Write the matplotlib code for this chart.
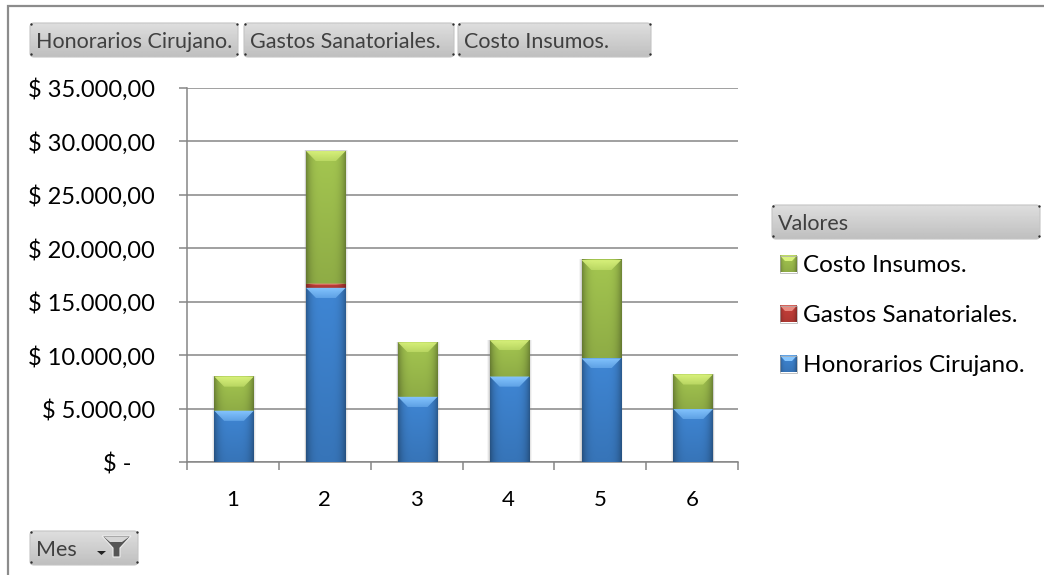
import matplotlib
matplotlib.use('Agg')
import matplotlib.pyplot as plt
import numpy as np
from matplotlib.patches import FancyBboxPatch, Polygon, Rectangle

plt.rcParams['font.family'] = ['Lato', 'DejaVu Sans']

meses = ['1', '2', '3', '4', '5', '6']
honorarios = [4800, 16300, 6100, 8000, 9700, 4950]
gastos = [0, 400, 0, 0, 0, 0]
insumos = [3200, 12400, 5100, 3400, 9200, 3250]
ytick_vals = [0, 5000, 10000, 15000, 20000, 25000, 30000, 35000]
ytick_labels = ['$ -    ', '$ 5.000,00', '$ 10.000,00', '$ 15.000,00', '$ 20.000,00',
                '$ 25.000,00', '$ 30.000,00', '$ 35.000,00']
botones = ['Honorarios Cirujano.', 'Gastos Sanatoriales.', 'Costo Insumos.']
leyenda = ['Costo Insumos.', 'Gastos Sanatoriales.', 'Honorarios Cirujano.']

azul = ['#3f86d4', '#86c6ff']
rojo = ['#c8403a', '#e98a80']
verde = ['#a4c650', '#d9f27c']

W, H = 1044, 575
GRIS = '#868686'
BAR_SHIFT = 0.012 # bars sit a little right of the category centre

fig = plt.figure(figsize=(W / 100, H / 100), dpi=100, facecolor='white')
ax = fig.add_axes([187 / W, 1 - 462 / H, 551 / W, 374 / H])

### gradient fill: darker towards the sides and the bottom ###
def shaded(color, n=40):
  rgb = np.array(matplotlib.colors.to_rgb(color))
  xs = np.linspace(-1, 1, n)
  ys = np.linspace(1.0, 0.87, n)
  side = 1 - 0.30 * np.abs(xs) ** 4
  return np.clip(rgb[None, None, :] * (ys[:, None] * side[None, :])[:, :, None], 0, 1)

# light top bevel that fades out downwards, clipped to a trapezoid
def bevel_top(a, x0, x1, top, h, d, color, zorder=4):
  tri = Polygon([(x0, top), (x1, top), (x1 - d, top - h), (x0 + d, top - h)], closed=True,
                facecolor='none', edgecolor='none', transform=a.transData)
  a.add_patch(tri)
  rgba = np.ones((30, 1, 4))
  rgba[:, 0, :3] = matplotlib.colors.to_rgb(color)
  rgba[:, 0, 3] = np.linspace(1.0, 0.45, 30)
  im = a.imshow(rgba, extent=[x0, x1, top - h, top], origin='upper', aspect='auto',
                interpolation='bilinear', zorder=zorder)
  im.set_clip_path(tri)

def bevel_bar(a, x, bottom, height, colors, width=0.43):
  if height <= 0:
    return
  x0, x1 = x - width / 2, x + width / 2
  a.imshow(shaded(colors[0]), extent=[x0, x1, bottom, bottom + height], aspect='auto',
           interpolation='bilinear', zorder=3)
  bevel_top(a, x0, x1, bottom + height, min(950, height * 0.35), width * 0.25, colors[1])

bottom2 = np.array(honorarios) + np.array(gastos)
total = bottom2 + np.array(insumos)
posiciones = np.arange(1, len(meses) + 1)

for i, x in enumerate(posiciones):
  # soft shadow around each stack
  for extra, alpha in [(0.05, 0.08), (0.03, 0.14), (0.015, 0.20)]:
    ax.bar(x + BAR_SHIFT, total[i] + 60, width=0.43 + extra, color='#808080', alpha=alpha, zorder=2)
  bevel_bar(ax, x + BAR_SHIFT, 0, honorarios[i], azul)
  bevel_bar(ax, x + BAR_SHIFT, honorarios[i], gastos[i], rojo)
  bevel_bar(ax, x + BAR_SHIFT, bottom2[i], insumos[i], verde)

ax.set_xlim(0.5, 6.5)
ax.set_ylim(0, 35000)
ax.set_xticks(np.arange(0.5, 7, 1))
ax.set_xticklabels([])
ax.set_xticks(posiciones, minor=True)
ax.set_xticklabels(meses, minor=True, fontsize=16, color='black')
ax.set_yticks(ytick_vals)
ax.set_yticklabels(ytick_labels, fontsize=17, color='black')
ax.tick_params(axis='x', which='major', length=6, width=1.1, color=GRIS)
ax.tick_params(axis='x', which='minor', length=0, pad=20)
ax.tick_params(axis='y', length=6, width=1.1, color=GRIS, pad=17)
ax.grid(axis='y', color=GRIS, linewidth=1.1, zorder=1)
ax.set_axisbelow(True)
for s in ['top', 'right']:
  ax.spines[s].set_visible(False)
for s in ['left', 'bottom']:
  ax.spines[s].set_color(GRIS)
  ax.spines[s].set_linewidth(1.1)

### overlay in pixel coordinates for the pivot buttons, legend and frame ###
ov = fig.add_axes([0, 0, 1, 1], zorder=5)
ov.patch.set_alpha(0)
ov.axis('off')

ov.plot([7.5, 7.5, W], [H, 6, 6], color='#8c8c8c', linewidth=1.6, solid_joinstyle='miter')

grad = np.linspace(0.87, 0.75, 40)[:, None]

def button(x0, y0, x1, y1, label):
  box = FancyBboxPatch((x0 + 2, y0 + 2), x1 - x0 - 4, y1 - y0 - 4, boxstyle='round,pad=2,rounding_size=4',
                       facecolor='none', edgecolor='#c4c4c4', linewidth=0.8, zorder=2)
  ov.add_patch(box)
  im = ov.imshow(grad, cmap='gray', vmin=0, vmax=1, extent=[x0, x1, y1, y0], aspect='auto', zorder=1)
  im.set_clip_path(box)
  ov.scatter([x0 + 1, x1 - 1, x0 + 1, x1 - 1], [y0 + 1, y0 + 1, y1 - 3, y1 - 3], s=3, color='#303030',
             linewidths=0, zorder=3)
  ov.text(x0 + 6, (y0 + y1) / 2 + 1.5, label, fontsize=15.5, color='#404040', ha='left', va='center', zorder=4)

button(30, 23, 238, 57, botones[0])
button(244, 23, 454, 57, botones[1])
button(458, 23, 651, 57, botones[2])
button(772, 205, 1040, 239, 'Valores')
button(30, 531, 138, 565, 'Mes')

# funnel and dropdown arrow on the Mes button
ov.add_patch(Polygon([(102, 536), (131, 536), (120, 548), (120, 557), (113, 557), (113, 548)],
                     closed=True, facecolor='#555555', edgecolor='#eeeeee', linewidth=0.8, zorder=4))
ov.add_patch(Polygon([(104, 537), (129, 537), (122, 542), (110, 542)], closed=True,
                     facecolor='#d5d5d5', edgecolor='none', zorder=5))
ov.add_patch(Polygon([(97, 551), (106, 551), (101.5, 555)], closed=True, facecolor='#222222',
                     edgecolor='none', zorder=4))

### legend ###
legend_y = [264, 314, 364]
legend_col = [verde, rojo, azul]
for nombre, y, col in zip(leyenda, legend_y, legend_col):
  ov.imshow(shaded(col[0]), extent=[780, 797, y + 8.5, y - 8.5], aspect='auto', interpolation='bilinear', zorder=2)
  ov.add_patch(Polygon([(780, y - 8.5), (797, y - 8.5), (792, y - 3), (785, y - 3)], closed=True,
                       facecolor=col[1], edgecolor='none', zorder=3))
  ov.add_patch(Rectangle((780, y - 8.5), 17, 17, facecolor='none', edgecolor='#aaaaaa', linewidth=0.5, zorder=3))
  ov.text(803, y + 1, nombre, fontsize=17.5, color='black', ha='left', va='center')

ov.set_xlim(0, W)
ov.set_ylim(H, 0)

ax.set_xlim(0.5, 6.5)
ax.set_ylim(0, 35000)

fig.savefig('out.png', dpi=100, facecolor='white')
